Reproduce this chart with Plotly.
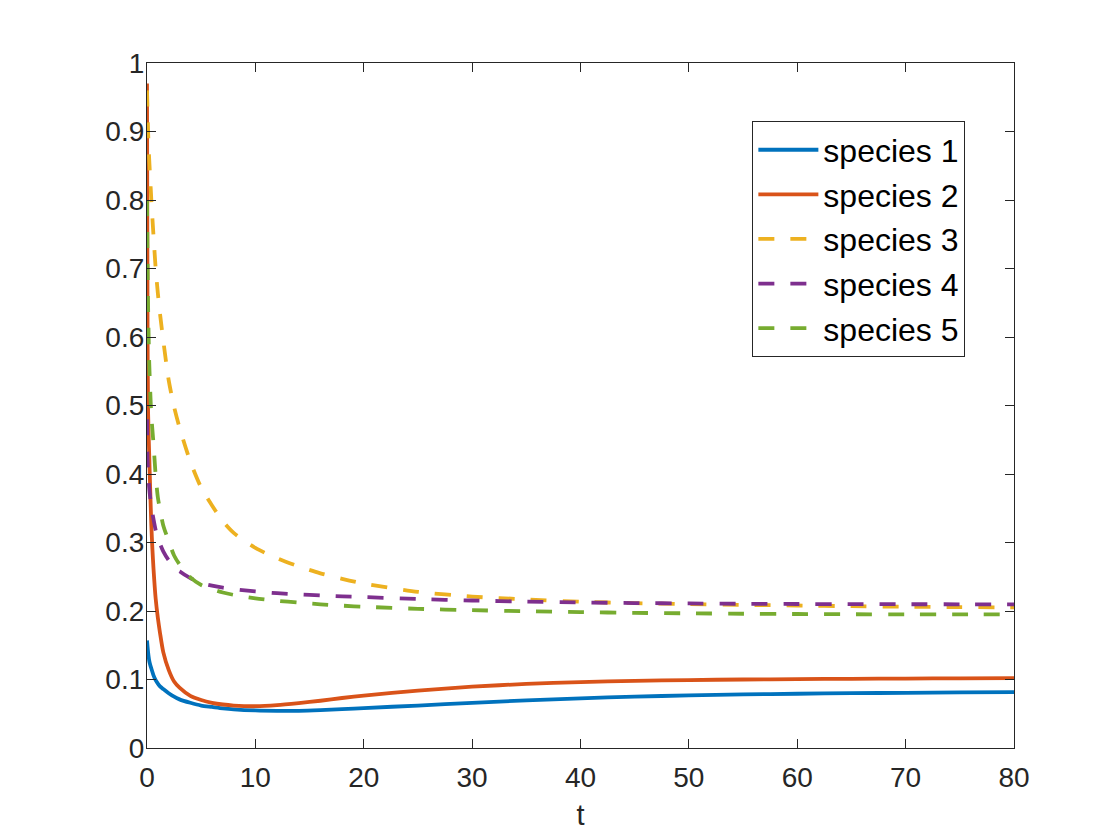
import plotly.graph_objects as go

t = [0, 0.05, 0.1, 0.2, 0.3, 0.4, 0.5, 0.6, 0.8, 1.0, 1.2, 1.5, 2, 2.5, 3, 4, 5, 6, 7, 8,
     10, 12, 14, 16, 18, 20, 25, 30, 35, 40, 45, 50, 55, 60, 65, 70, 75, 80]

species1 = [0.157, 0.148, 0.140, 0.128, 0.121, 0.116, 0.111, 0.106, 0.099, 0.094, 0.090, 0.086,
            0.080, 0.075, 0.071, 0.066, 0.062, 0.060, 0.058, 0.0565, 0.0548, 0.0542, 0.0543, 0.0553,
            0.0567, 0.0583, 0.062, 0.066, 0.0695, 0.0725, 0.075, 0.0768, 0.0782, 0.0792, 0.080, 0.0806,
            0.0811, 0.0815]
species2 = [0.97, 0.62, 0.49, 0.43, 0.375, 0.325, 0.290, 0.262, 0.218, 0.190, 0.168, 0.140,
            0.114, 0.097, 0.088, 0.076, 0.070, 0.066, 0.0635, 0.062, 0.061, 0.0625, 0.0655, 0.069,
            0.073, 0.0765, 0.0838, 0.0895, 0.0935, 0.0962, 0.098, 0.0992, 0.1, 0.1006, 0.101, 0.1014,
            0.1017, 0.102]
species3 = [0.96, 0.93, 0.90, 0.86, 0.83, 0.80, 0.773, 0.748, 0.700, 0.664, 0.634, 0.595,
            0.537, 0.498, 0.468, 0.418, 0.380, 0.354, 0.331, 0.314, 0.292, 0.277, 0.265, 0.255,
            0.247, 0.240, 0.228, 0.221, 0.217, 0.2135, 0.2115, 0.210, 0.209, 0.208, 0.207, 0.2063,
            0.2057, 0.2052]
species4 = [0.48, 0.42, 0.405, 0.381, 0.365, 0.354, 0.343, 0.334, 0.318, 0.307, 0.298, 0.287,
            0.274, 0.265, 0.258, 0.248, 0.241, 0.237, 0.234, 0.232, 0.2285, 0.226, 0.2242, 0.2227,
            0.2214, 0.2203, 0.2175, 0.2153, 0.2137, 0.2125, 0.2116, 0.211, 0.2105, 0.2102, 0.21, 0.2099,
            0.2098, 0.2097]
species5 = [0.80, 0.71, 0.645, 0.565, 0.52, 0.485, 0.464, 0.444, 0.398, 0.366, 0.348, 0.325,
            0.302, 0.281, 0.268, 0.249, 0.238, 0.232, 0.227, 0.2235, 0.2185, 0.215, 0.2122, 0.2098,
            0.2078, 0.2062, 0.2032, 0.2012, 0.1996, 0.1983, 0.1973, 0.1966, 0.196, 0.1956, 0.1953, 0.1951,
            0.195, 0.1949]

names = ["species 1", "species 2", "species 3", "species 4", "species 5"]
series = [species1, species2, species3, species4, species5]
colors = ["#0072BD", "#D95319", "#EDB120", "#7E2F8E", "#77AC30"]
dashes = ["solid", "solid", "16px,16px", "16px,16px", "16px,16px"]

fig = go.Figure()
for name, ys, c, d in zip(names, series, colors, dashes):
    fig.add_trace(go.Scatter(x=t, y=ys, mode="lines", name=name,
                             line=dict(color=c, width=3.8, dash=d, shape="spline", smoothing=0.7)))

axis_common = dict(
    showline=True, linecolor="#262626", linewidth=1.2, mirror="allticks",
    ticks="inside", ticklen=9, tickwidth=1.2, tickcolor="#262626",
    showgrid=False, zeroline=False,
    tickfont=dict(family="Liberation Sans, Arial, Helvetica", size=28, color="#262626"),
)

fig.update_xaxes(range=[0, 80], dtick=10, tick0=0,
                 title=dict(text="t", font=dict(family="Liberation Sans, Arial", size=29, color="#262626"),
                            standoff=12),
                 ticklabelstandoff=4, **axis_common)
fig.update_yaxes(range=[0, 1], dtick=0.1, tick0=0, ticklabelstandoff=-4, **axis_common)

fig.update_layout(
    width=1120, height=840,
    margin=dict(l=139, r=114, t=55, b=100),
    paper_bgcolor="white", plot_bgcolor="white",
    font=dict(family="Liberation Sans, Arial, Helvetica"),
    legend=dict(x=0.698, y=0.915, xanchor="left", yanchor="top",
                bgcolor="white", bordercolor="#262626", borderwidth=1.2,
                font=dict(family="Liberation Sans, Arial", size=32, color="black"),
                itemwidth=60, tracegroupgap=0),
    showlegend=True,
)

fig.write_html("out.html")
